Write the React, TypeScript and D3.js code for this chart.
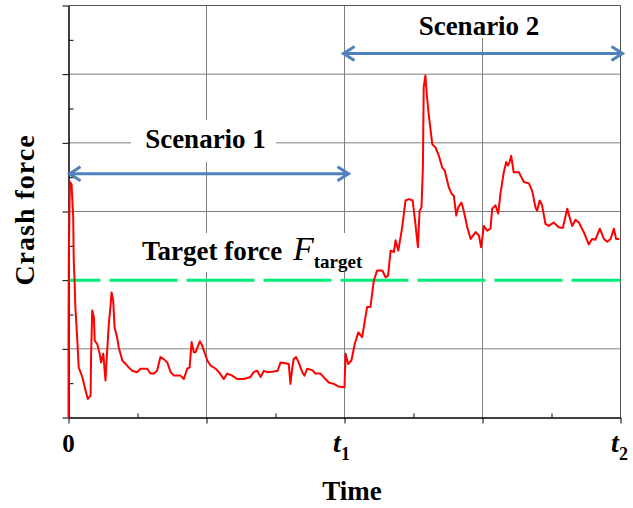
import React, { useEffect, useRef } from "react";
import * as d3 from "d3";

// crash force curve (time 0..200, t1 = 100, t2 = 200; force in grid units of 10)
const time = [
  0, 0, 0.1, 0.5, 1.1, 1.4, 1.7, 1.9, 2.2, 2.5, 3.2, 3.7, 5.0, 6.2, 7.0, 8.0, 8.2, 8.6, 9.2, 9.5,
  10.4, 11.3, 11.8, 12.6, 13.0, 13.4, 13.8, 14.6, 15.2, 15.6, 16.2, 16.7, 17.6, 18.2, 19.5, 20.7,
  21.8, 23.1, 24.9, 26.1, 28.5, 29.7, 30.9, 32.1, 33.3, 34.5, 35.8, 37.0, 38.2, 40.6, 41.8, 43.0,
  43.9, 44.6, 45.4, 46.0, 47.6, 48.4, 49.0, 50.3, 51.4, 53.3, 54.5, 56.3, 57.5, 59.3, 61.1, 63.5,
  65.9, 67.1, 68.4, 69.6, 70.8, 72.0, 74.4, 75.8, 76.8, 78.6, 79.8, 80.4, 81.1, 81.6, 82.5, 83.4,
  84.7, 85.5, 86.5, 88.3, 89.5, 91.3, 93.1, 94.3, 96.1, 97.9, 99.7, 100.0, 100.4, 101.3, 102.5,
  103.7, 105.0, 106.4, 108.2, 109.4, 110.6, 111.8, 113.7, 114.9, 115.8, 116.7, 117.9, 118.5,
  119.5, 120.9, 122.1, 123.3, 124.7, 125.7, 126.6, 127.2, 127.9, 128.4, 128.7, 129.3, 129.8,
  130.5, 131.2, 131.8, 133.0, 134.2, 135.4, 136.3, 137.8, 138.8, 139.6, 140.5, 141.2, 142.4,
  143.2, 144.5, 145.7, 147.5, 148.7, 149.5, 150.5, 151.7, 152.9, 153.5, 154.7, 155.7, 156.5,
  157.7, 158.6, 159.2, 159.8, 160.4, 161.3, 163.2, 165.0, 166.8, 168.0, 169.2, 169.8, 170.7,
  171.6, 172.8, 174.0, 175.8, 177.6, 179.1, 180.7, 181.9, 182.5, 183.7, 184.9, 186.7, 188.5,
  189.7, 190.9, 192.5, 194.0, 195.2, 196.4, 197.6, 198.4, 199.6,
];
const force = [
  0, 11.2, 22.9, 34.3, 34.0, 31.6, 29.2, 22.9, 19.9, 16.0, 11.2, 7.3, 5.9, 3.9, 2.7, 3.2, 9.3, 15.6,
  14.6, 11.2, 10.7, 9.3, 8.0, 9.3, 7.3, 5.4, 8.3, 13.6, 16.1, 18.2, 17.0, 13.1, 11.7, 10.2, 8.3, 7.8,
  7.3, 6.8, 6.6, 7.1, 7.1, 6.4, 6.4, 6.8, 8.8, 8.5, 8.0, 6.6, 6.1, 6.1, 5.6, 7.1, 7.3, 11.0, 9.5,
  9.5, 11.1, 10.5, 9.8, 8.3, 7.6, 7.1, 6.6, 5.6, 6.4, 6.1, 5.6, 5.6, 5.9, 6.6, 6.8, 5.9, 6.8, 6.6,
  6.7, 6.8, 8.0, 7.9, 7.8, 4.9, 7.3, 8.5, 8.8, 8.0, 6.6, 6.1, 7.1, 6.9, 6.4, 6.4, 5.6, 5.1, 4.9,
  4.5, 4.4, 4.4, 9.3, 7.8, 8.3, 10.7, 12.4, 11.7, 16.1, 16.1, 19.9, 21.4, 21.4, 20.4, 20.7, 24.3,
  24.1, 25.8, 24.3, 27.7, 31.6, 31.8, 31.6, 28.2, 24.8, 30.1, 30.6, 36.4, 48.1, 49.8, 47.1, 44.2,
  41.8, 39.8, 39.3, 38.1, 36.4, 36.0, 33.5, 32.6, 32.3, 29.4, 30.6, 31.3, 30.1, 27.7, 26.0, 27.0,
  26.5, 24.8, 27.9, 27.2, 27.5, 30.4, 30.9, 29.7, 32.6, 35.7, 37.2, 36.7, 37.2, 38.1, 35.7, 35.7,
  34.3, 34.1, 33.0, 30.6, 30.1, 31.6, 30.9, 28.2, 27.9, 28.4, 27.7, 27.6, 30.4, 28.7, 27.9, 28.8,
  28.4, 27.0, 25.2, 26.0, 25.9, 27.5, 26.0, 25.6, 26.0, 27.5, 26.0, 26.0,
];

const targetForce = 20;
const majorX = [0, 50, 100, 150, 200];
const minorX = [25, 75, 125, 175];
const majorY = [0, 10, 20, 30, 40, 50, 60];
const minorY = [5, 15, 25, 35, 45, 55];
const scenario1 = { label: "Scenario 1", from: 0, to: 100, level: 35.5 };
const scenario2 = { label: "Scenario 2", from: 100, to: 200, level: 53 };

const width = 633;
const height = 508;
const serif = "'Liberation Serif', 'Times New Roman', serif";

const App = () => {
  const svgRef = useRef(null);

  useEffect(() => {
    if (!svgRef.current) return;
    const svg = d3.select(svgRef.current);
    svg.selectAll("*").remove();

    const x = d3.scaleLinear([0, 200], [68.5, 620.5]);
    const y = d3.scaleLinear([0, 60], [417.5, 5.5]);

    // grid lines (the target line replaces the one at its level)
    svg
      .append("g")
      .selectAll("line")
      .data(majorX.slice(1))
      .join("line")
      .attr("x1", (d) => x(d))
      .attr("x2", (d) => x(d))
      .attr("y1", y(60))
      .attr("y2", y(0))
      .attr("stroke", "#7f7f7f");
    svg
      .append("g")
      .selectAll("line")
      .data(majorY.slice(1).filter((d) => d !== targetForce))
      .join("line")
      .attr("x1", x(0))
      .attr("x2", x(200))
      .attr("y1", (d) => y(d))
      .attr("y2", (d) => y(d))
      .attr("stroke", "#7f7f7f");

    // white boxes behind the labels cut the grid
    const boxes = [
      [131, 120, 145, 42],
      [410, 6, 140, 32],
      [136, 233, 234, 39],
    ];
    svg
      .append("g")
      .selectAll("rect")
      .data(boxes)
      .join("rect")
      .attr("x", (d) => d[0])
      .attr("y", (d) => d[1])
      .attr("width", (d) => d[2])
      .attr("height", (d) => d[3])
      .attr("fill", "#fff");

    // axes and ticks
    const tickStyle = (g) => {
      g.select(".domain").attr("stroke", "#000");
      g.selectAll(".tick line").attr("stroke", "#000");
      g.selectAll(".tick text").remove();
    };
    svg
      .append("g")
      .attr("transform", `translate(${x(0)},0)`)
      .call(d3.axisLeft(y).tickValues(majorY).tickSize(6).tickSizeOuter(0))
      .call(tickStyle);
    svg
      .append("g")
      .attr("transform", `translate(${x(0)},0)`)
      .call(d3.axisRight(y).tickValues(minorY).tickSize(5).tickSizeOuter(0))
      .call(tickStyle);
    svg
      .append("g")
      .attr("transform", `translate(0,${y(0)})`)
      .call(d3.axisBottom(x).tickValues(majorX).tickSize(6).tickSizeOuter(0))
      .call(tickStyle);
    svg
      .append("g")
      .attr("transform", `translate(0,${y(0)})`)
      .call(d3.axisTop(x).tickValues(minorX).tickSize(4).tickSizeOuter(0))
      .call(tickStyle);
    svg
      .append("path")
      .attr("d", `M${x(0)},${y(60)}H${x(200)}V${y(0)}`)
      .attr("fill", "none")
      .attr("stroke", "#555");

    // target force
    svg
      .append("line")
      .attr("x1", x(0))
      .attr("x2", x(200))
      .attr("y1", y(targetForce))
      .attr("y2", y(targetForce))
      .attr("stroke", "#00ee77")
      .attr("stroke-width", 3)
      .attr("stroke-dasharray", "68,9")
      .attr("stroke-dashoffset", 36);

    // crash force curve
    const line = d3
      .line()
      .x((d) => x(d[0]))
      .y((d) => y(d[1]));
    svg
      .append("path")
      .attr("d", line(time.map((t, i) => [t, force[i]])))
      .attr("fill", "none")
      .attr("stroke", "#ff0000")
      .attr("stroke-width", 2)
      .attr("stroke-linejoin", "round");

    // scenario arrows
    const blue = "#4f81bd";
    [scenario1, scenario2].forEach((s) => {
      const x0 = x(s.from) - (s === scenario2 ? 2 : 0);
      const x1 = x(s.to) + (s === scenario2 ? 3 : 5);
      const yy = y(s.level);
      svg
        .append("path")
        .attr(
          "d",
          `M${x0},${yy}H${x1}M${x0 + 12},${yy - 7}L${x0 + 1},${yy}L${x0 + 12},${yy + 7}` +
            `M${x1 - 12},${yy - 7}L${x1 - 1},${yy}L${x1 - 12},${yy + 7}`
        )
        .attr("fill", "none")
        .attr("stroke", blue)
        .attr("stroke-width", 3);
    });

    const bold = (sel) =>
      sel.attr("font-family", serif).attr("font-weight", "bold").attr("fill", "#000");

    svg
      .append("text")
      .call(bold)
      .attr("x", x(50) - 1)
      .attr("y", 148)
      .attr("text-anchor", "middle")
      .attr("font-size", 27)
      .text(scenario1.label);
    svg
      .append("text")
      .call(bold)
      .attr("x", 479)
      .attr("y", 35)
      .attr("text-anchor", "middle")
      .attr("font-size", 27)
      .text(scenario2.label);

    // target force label
    const tf = svg.append("text").attr("x", 142).attr("y", 260).attr("font-family", serif);
    tf.append("tspan").attr("font-weight", "bold").attr("font-size", 27).text("Target force ");
    tf.append("tspan")
      .attr("font-style", "italic")
      .attr("font-size", 34)
      .attr("dx", 4)
      .text("F");
    tf.append("tspan")
      .attr("font-weight", "bold")
      .attr("font-size", 19)
      .attr("dy", 8)
      .text("target");

    // x tick labels
    svg
      .append("text")
      .call(bold)
      .attr("x", x(0))
      .attr("y", 452)
      .attr("text-anchor", "middle")
      .attr("font-size", 25)
      .text("0");
    [
      [x(100) - 3, "1"],
      [x(200) - 1, "2"],
    ].forEach(([px, sub]) => {
      const t = svg
        .append("text")
        .call(bold)
        .attr("x", px)
        .attr("y", 452)
        .attr("text-anchor", "middle");
      t.append("tspan").attr("font-style", "italic").attr("font-size", 28).text("t");
      t.append("tspan").attr("font-size", 18).attr("dy", 8).text(sub);
    });

    // axis titles
    svg
      .append("text")
      .call(bold)
      .attr("x", 352)
      .attr("y", 500)
      .attr("text-anchor", "middle")
      .attr("font-size", 27)
      .text("Time");
    svg
      .append("text")
      .call(bold)
      .attr("transform", "translate(34,210) rotate(-90)")
      .attr("text-anchor", "middle")
      .attr("font-size", 28)
      .attr("letter-spacing", 1)
      .text("Crash force");
  }, []);

  return (
    <svg
      ref={svgRef}
      width={width}
      height={height}
      style={{ position: "absolute", left: 0, top: 0, background: "#fff" }}
    />
  );
};

export default App;
